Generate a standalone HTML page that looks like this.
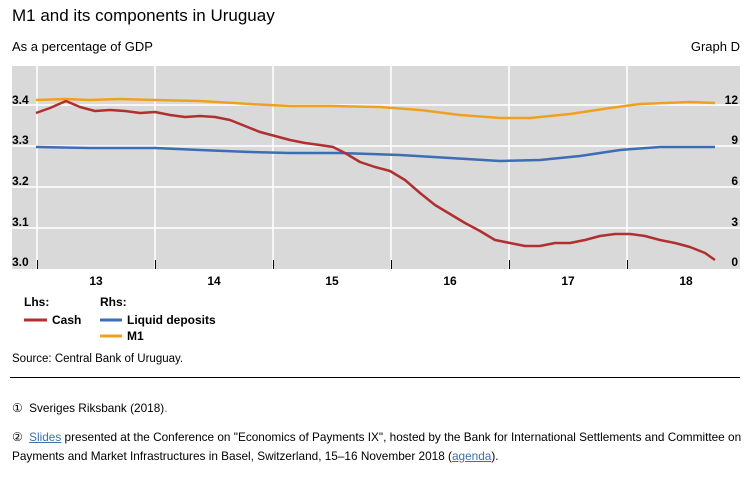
<!DOCTYPE html>
<html><head><meta charset="utf-8"><style>
body{margin:0;width:751px;height:478px;background:#fff;font-family:"Liberation Sans",sans-serif;position:relative;overflow:hidden}
.t{position:absolute;white-space:nowrap;color:#000}
a{color:#3a6fb0}
</style></head><body>
<div class="t" style="left:12px;top:6px;font-size:17px">M1 and its components in Uruguay</div>
<div class="t" style="left:12px;top:39px;font-size:13px">As a percentage of GDP</div>
<div class="t" style="right:11px;top:39px;font-size:13px">Graph D</div>
<svg style="position:absolute;left:0;top:0" width="751" height="350">
<rect x="12" y="66" width="728" height="203" fill="#d9d9d9"/>
<g stroke="#fff" stroke-width="1.5">
<line x1="12" x2="740" y1="105" y2="105"/><line x1="12" x2="740" y1="146" y2="146"/>
<line x1="12" x2="740" y1="187" y2="187"/><line x1="12" x2="740" y1="228" y2="228"/>
<line x1="37" x2="37" y1="66" y2="269"/><line x1="155" x2="155" y1="66" y2="269"/>
<line x1="273" x2="273" y1="66" y2="269"/><line x1="391" x2="391" y1="66" y2="269"/>
<line x1="509" x2="509" y1="66" y2="269"/><line x1="627" x2="627" y1="66" y2="269"/>
</g>
<g stroke="#000" stroke-width="1"><line x1="37.5" x2="37.5" y1="260" y2="269"/><line x1="155.5" x2="155.5" y1="260" y2="269"/><line x1="273.5" x2="273.5" y1="260" y2="269"/><line x1="391.5" x2="391.5" y1="260" y2="269"/><line x1="509.5" x2="509.5" y1="260" y2="269"/><line x1="627.5" x2="627.5" y1="260" y2="269"/></g>
<g font-size="12" font-weight="bold" font-family="Liberation Sans,sans-serif">
<text x="12" y="104">3.4</text><text x="12" y="144">3.3</text><text x="12" y="185">3.2</text><text x="12" y="226">3.1</text><text x="12" y="266">3.0</text>
<text x="738" y="104" text-anchor="end">12</text><text x="738" y="144" text-anchor="end">9</text><text x="738" y="185" text-anchor="end">6</text><text x="738" y="226" text-anchor="end">3</text><text x="738" y="266" text-anchor="end">0</text>
<text x="96" y="285" text-anchor="middle">13</text><text x="214" y="285" text-anchor="middle">14</text><text x="332" y="285" text-anchor="middle">15</text><text x="450" y="285" text-anchor="middle">16</text><text x="568" y="285" text-anchor="middle">17</text><text x="686" y="285" text-anchor="middle">18</text>
</g>
<g fill="none" stroke-width="2.5" stroke-linejoin="round">
<polyline stroke="#f0a020" points="36,100 66,99 90,100 120,99 155,100 200,101 250,104 290,106 330,106 380,107 420,110 460,115 500,118 530,118 570,114 610,108 640,104 690,102 715,103"/>
<polyline stroke="#3c6db5" points="36,147 90,148 155,148 200,150 250,152 290,153 340,153 400,155 450,158 500,161 540,160 580,156 620,150 660,147 715,147"/>
<polyline stroke="#b03030" points="36,113 50,108 66,101 80,107 95,111 110,110 125,111 140,113 155,112 170,115 185,117 200,116 215,117 230,120 245,126 260,132 275,136 290,140 305,143 320,145 333,147 345,153 360,162 375,167 390,171 405,180 420,193 435,205 450,214 465,223 480,231 495,240 510,243 525,246 540,246 555,243 570,243 585,240 600,236 615,234 630,234 645,236 660,240 675,243 690,247 705,253 715,260"/>
</g>
<g font-size="12" font-weight="bold" font-family="Liberation Sans,sans-serif">
<text x="24" y="306">Lhs:</text><text x="100" y="306">Rhs:</text>
<line x1="24" x2="47" y1="320" y2="320" stroke="#b03030" stroke-width="3"/><text x="52" y="324">Cash</text>
<line x1="100" x2="122" y1="320" y2="320" stroke="#3c6db5" stroke-width="3"/><text x="127" y="324">Liquid deposits</text>
<line x1="100" x2="122" y1="336" y2="336" stroke="#f0a020" stroke-width="3"/><text x="127" y="340">M1</text>
</g>
</svg>
<div class="t" style="left:12px;top:353px;font-size:11.5px">Source: Central Bank of Uruguay.</div>
<div style="position:absolute;left:10px;top:377px;width:730px;height:1px;background:#000"></div>
<div class="t" style="left:12px;top:401px;font-size:11.8px">①&nbsp;&nbsp;Sveriges Riksbank (2018)<a>.</a></div>
<div class="t" style="left:12px;top:430px;font-size:11.8px">②&nbsp;&nbsp;<a style="text-decoration:underline">Slides</a> presented at the Conference on "Economics of Payments IX", hosted by the Bank for International Settlements and Committee on</div>
<div class="t" style="left:12px;top:449px;font-size:11.8px">Payments and Market Infrastructures in Basel, Switzerland, 15–16 November 2018 (<a style="text-decoration:underline">agenda</a>).</div>
</body></html>
